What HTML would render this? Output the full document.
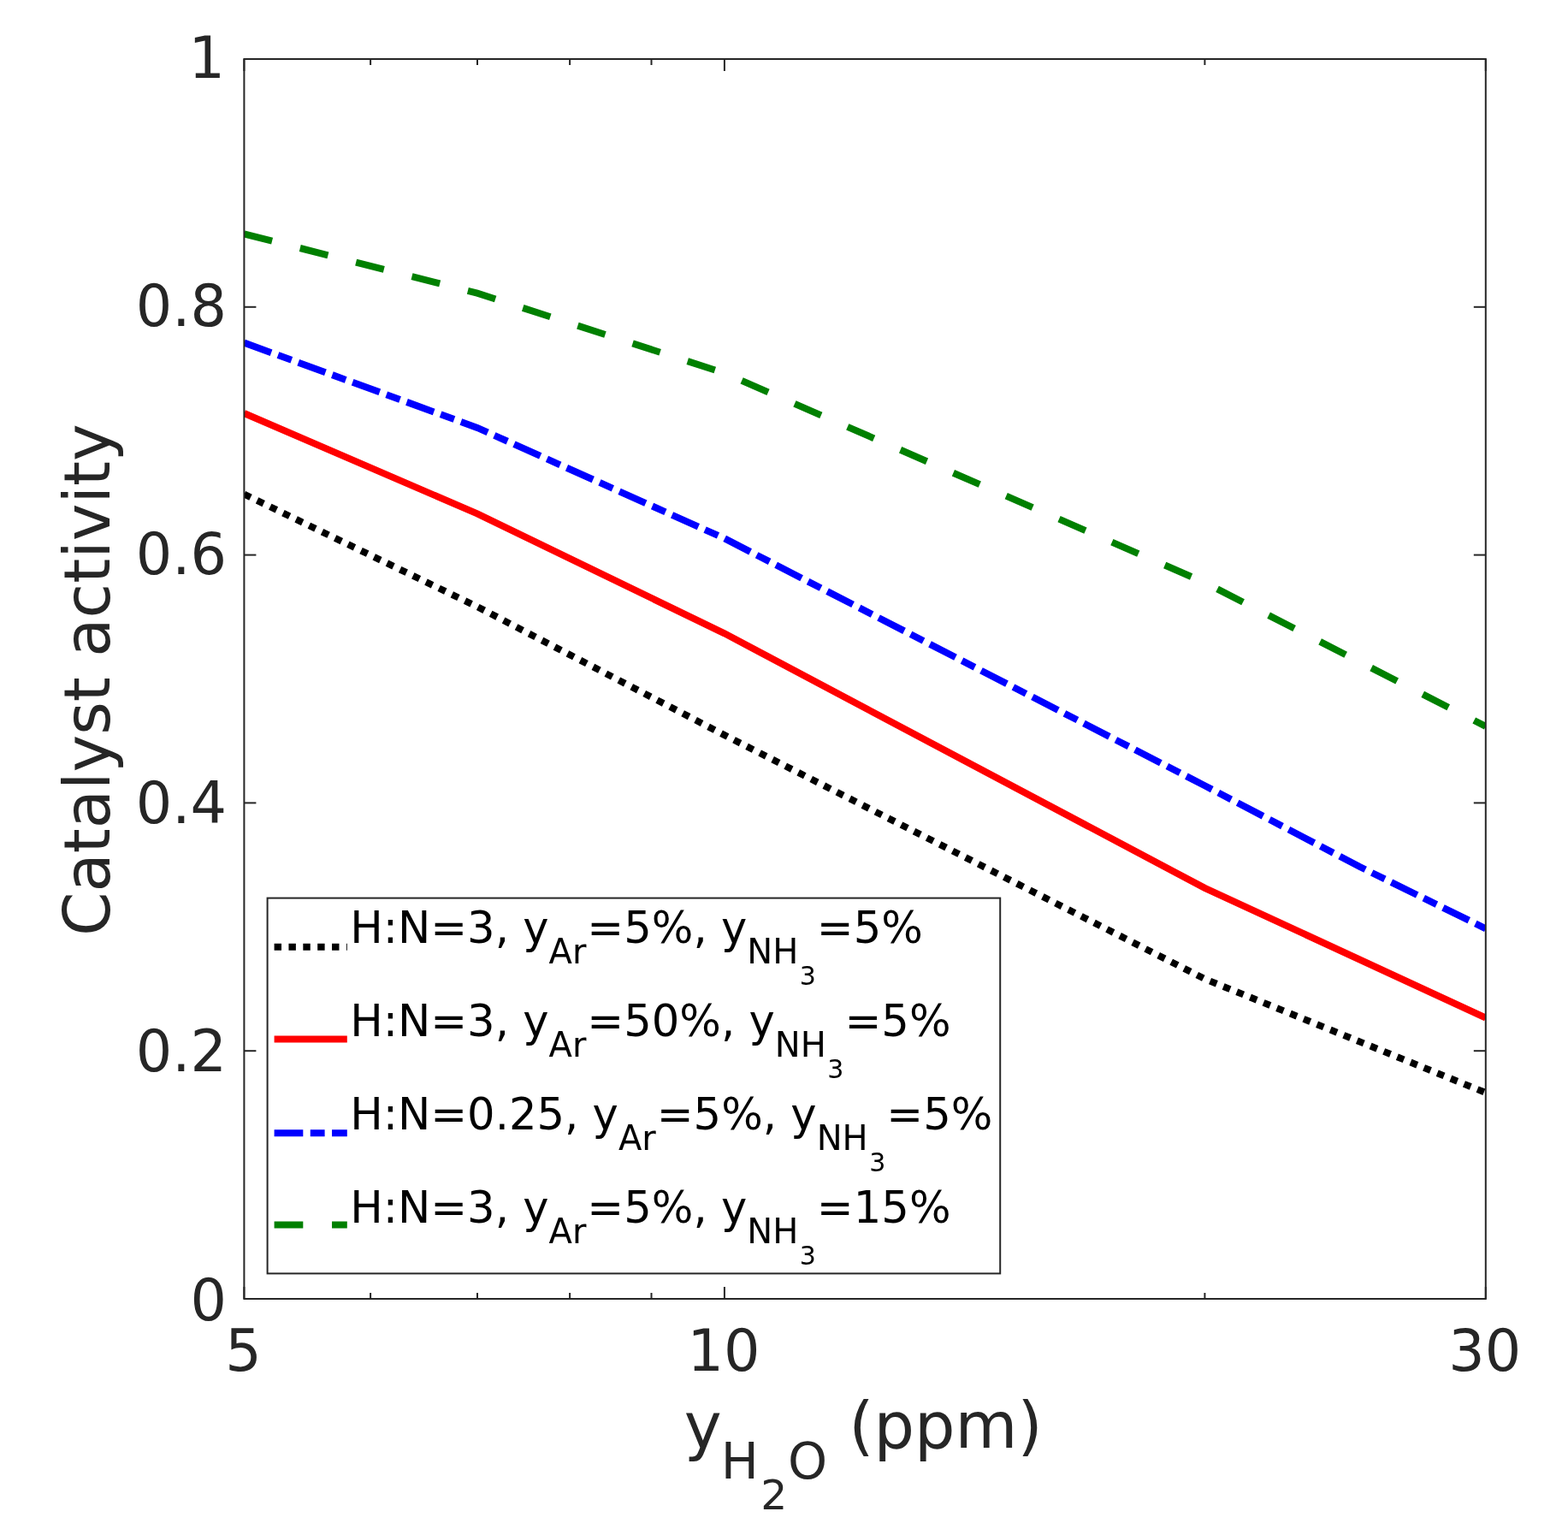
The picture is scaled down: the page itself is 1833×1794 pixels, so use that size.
<!DOCTYPE html>
<html><head><meta charset="utf-8"><title>Catalyst activity</title>
<style>
html,body{margin:0;padding:0;background:#fff;}
svg{display:block;}
text{font-family:"DejaVu Sans","Liberation Sans",sans-serif;}
</style></head>
<body>
<svg xmlns="http://www.w3.org/2000/svg" width="1833" height="1794" viewBox="0 0 1833 1794">
<rect x="0" y="0" width="1833" height="1794" fill="#fff"/>
<defs><clipPath id="ax"><rect x="285.4" y="69.0" width="1451.4" height="1449.0"/></clipPath></defs>
<g fill="none" stroke-linejoin="miter" stroke-linecap="butt" clip-path="url(#ax)">
<path d="M285.4,577.6 L557.9,709.1 L846.9,859.1 L1408.4,1144.1 L1736.8,1277.1" stroke="#000000" stroke-width="8.0" stroke-dasharray="8.43 8.43"/>
<path d="M285.4,483.0 L557.9,600.4 L846.9,740.3 L1408.4,1037.9 L1736.8,1189.5" stroke="#ff0000" stroke-width="8.0"/>
<path d="M285.4,400.6 L557.9,499.9 L846.9,629.3 L1408.4,918.2 L1589.1,1012.8 L1736.8,1085.3" stroke="#0000ff" stroke-width="8.0" stroke-dasharray="33.72 8.43 16.86 8.43"/>
<path d="M285.4,273.4 L557.9,342.6 L846.9,436.1 L1408.4,680.9 L1736.8,849.0" stroke="#008000" stroke-width="8.0" stroke-dasharray="33.72 33.72"/>
</g>
<g stroke="#262626" stroke-width="2" fill="none" stroke-linecap="butt">
<rect x="285.4" y="69.0" width="1451.4" height="1449.0"/>
<line x1="285.4" y1="1518.0" x2="285.4" y2="1504.0"/><line x1="285.4" y1="69.0" x2="285.4" y2="83.0"/>
<line x1="846.9" y1="1518.0" x2="846.9" y2="1504.0"/><line x1="846.9" y1="69.0" x2="846.9" y2="83.0"/>
<line x1="1736.8" y1="1518.0" x2="1736.8" y2="1504.0"/><line x1="1736.8" y1="69.0" x2="1736.8" y2="83.0"/>
<line x1="433.1" y1="1518.0" x2="433.1" y2="1511.0"/><line x1="433.1" y1="69.0" x2="433.1" y2="76.0"/>
<line x1="558.0" y1="1518.0" x2="558.0" y2="1511.0"/><line x1="558.0" y1="69.0" x2="558.0" y2="76.0"/>
<line x1="666.1" y1="1518.0" x2="666.1" y2="1511.0"/><line x1="666.1" y1="69.0" x2="666.1" y2="76.0"/>
<line x1="761.5" y1="1518.0" x2="761.5" y2="1511.0"/><line x1="761.5" y1="69.0" x2="761.5" y2="76.0"/>
<line x1="1408.4" y1="1518.0" x2="1408.4" y2="1511.0"/><line x1="1408.4" y1="69.0" x2="1408.4" y2="76.0"/>
<line x1="285.4" y1="1518.0" x2="299.4" y2="1518.0"/><line x1="1736.8" y1="1518.0" x2="1722.8" y2="1518.0"/>
<line x1="285.4" y1="1228.2" x2="299.4" y2="1228.2"/><line x1="1736.8" y1="1228.2" x2="1722.8" y2="1228.2"/>
<line x1="285.4" y1="938.4" x2="299.4" y2="938.4"/><line x1="1736.8" y1="938.4" x2="1722.8" y2="938.4"/>
<line x1="285.4" y1="648.6" x2="299.4" y2="648.6"/><line x1="1736.8" y1="648.6" x2="1722.8" y2="648.6"/>
<line x1="285.4" y1="358.8" x2="299.4" y2="358.8"/><line x1="1736.8" y1="358.8" x2="1722.8" y2="358.8"/>
<line x1="285.4" y1="69.0" x2="299.4" y2="69.0"/><line x1="1736.8" y1="69.0" x2="1722.8" y2="69.0"/>
</g>
<g fill="#262626" font-size="66.8">
<text x="265" y="1542.5" text-anchor="end">0</text>
<text x="265" y="1251.7" text-anchor="end">0.2</text>
<text x="265" y="962.4" text-anchor="end">0.4</text>
<text x="265" y="670.6" text-anchor="end">0.6</text>
<text x="265" y="380.8" text-anchor="end">0.8</text>
<text x="263" y="91.0" text-anchor="end">1</text>
<text x="284.4" y="1601.5" text-anchor="middle">5</text>
<text x="845.9" y="1601.5" text-anchor="middle">10</text>
<text x="1735.8" y="1601.5" text-anchor="middle">30</text>
</g>
<text transform="translate(127.8,794.7) rotate(-90)" text-anchor="middle" font-size="73.9" fill="#262626">Catalyst activity</text>
<g fill="#262626"><text x="799.8" y="1692" font-size="74.25">y</text><text x="842.8" y="1728" font-size="58.6">H</text><text x="889.2" y="1764" font-size="48.8">2</text><text x="920.9" y="1728" font-size="58.6">O</text><text x="992.2" y="1692" font-size="74.9">(ppm)</text></g>
<rect x="312.6" y="1049.6" width="856.6" height="438.8" fill="#fff" stroke="#262626" stroke-width="2"/>
<line x1="320.6" y1="1106.8" x2="405.8" y2="1106.8" stroke="#000000" stroke-width="8.0" stroke-dasharray="8.43 8.43"/>
<text x="409.2" y="1101.5" font-size="51.2" fill="#000"><tspan>H:N=3, y</tspan><tspan y="1126.0" font-size="40.0">Ar</tspan><tspan y="1101.5" dx="1">=5%, y</tspan><tspan y="1126.0" font-size="40.0">NH</tspan><tspan y="1150.6" dx="1.5" font-size="30.0">3</tspan><tspan y="1101.5" dx="1">=5%</tspan></text>
<line x1="320.6" y1="1214.4" x2="405.8" y2="1214.4" stroke="#ff0000" stroke-width="8.0"/>
<text x="409.2" y="1210.6" font-size="51.2" fill="#000"><tspan>H:N=3, y</tspan><tspan y="1235.1" font-size="40.0">Ar</tspan><tspan y="1210.6" dx="1">=50%, y</tspan><tspan y="1235.1" font-size="40.0">NH</tspan><tspan y="1259.7" dx="1.5" font-size="30.0">3</tspan><tspan y="1210.6" dx="1">=5%</tspan></text>
<line x1="320.6" y1="1324.2" x2="405.8" y2="1324.2" stroke="#0000ff" stroke-width="8.0" stroke-dasharray="33.72 8.43 16.86 8.43"/>
<text x="409.2" y="1319.7" font-size="51.2" fill="#000"><tspan>H:N=0.25, y</tspan><tspan y="1344.2" font-size="40.0">Ar</tspan><tspan y="1319.7" dx="1">=5%, y</tspan><tspan y="1344.2" font-size="40.0">NH</tspan><tspan y="1368.8" dx="1.5" font-size="30.0">3</tspan><tspan y="1319.7" dx="1">=5%</tspan></text>
<line x1="320.6" y1="1431.6" x2="405.8" y2="1431.6" stroke="#008000" stroke-width="8.0" stroke-dasharray="33.72 33.72"/>
<text x="409.2" y="1428.8" font-size="51.2" fill="#000"><tspan>H:N=3, y</tspan><tspan y="1453.3" font-size="40.0">Ar</tspan><tspan y="1428.8" dx="1">=5%, y</tspan><tspan y="1453.3" font-size="40.0">NH</tspan><tspan y="1477.9" dx="1.5" font-size="30.0">3</tspan><tspan y="1428.8" dx="1">=15%</tspan></text>
</svg>
</body></html>
